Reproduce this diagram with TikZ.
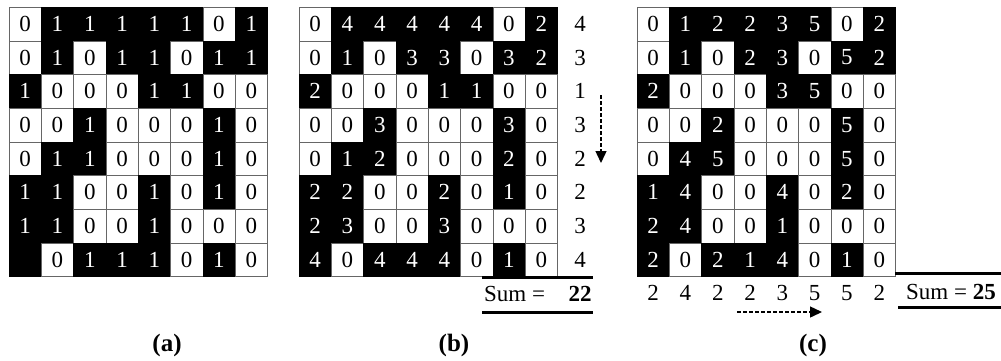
\documentclass[tikz,border=0pt]{standalone}
\usepackage{fontspec}
\setmainfont{Liberation Serif}
\usetikzlibrary{arrows.meta,positioning}
\tikzset{
  cellw/.style={draw=black!60, fill=white, text=black, minimum width=32.3pt, minimum height=33.7pt, inner sep=0pt, font=\fontsize{23}{27}\selectfont},
  cellb/.style={cellw, fill=black, draw=black, text=white},
  num/.style={inner sep=0pt, font=\fontsize{23}{27}\selectfont},
  sumrule/.style={line width=3pt},
  flow/.style={dash pattern=on 4pt off 2pt, line width=1.4pt, -{Triangle[length=12pt,width=11pt]}},
  panel/.style={font=\bfseries\fontsize{25}{30}\selectfont},
}
% #1 name, #2 left edge, #3 rows
\newcommand\celgrid[3]{%
  \foreach \row [count=\i from 0] in {#3}
    \foreach \v/\c [count=\j from 0] in \row
      \node[cell\c] (#1-\i-\j) at ({#2+(\j+0.5)*32.3},{7+(\i+0.5)*33.7}) {\v};
}
\begin{document}
\begin{tikzpicture}[x=1pt, y=-1pt]
\useasboundingbox (0,0) rectangle (1001,360);
% (a) binary image
\celgrid{a}{9}{{0/w,1/b,1/b,1/b,1/b,1/b,0/w,1/b},
  {0/w,1/b,0/w,1/b,1/b,0/w,1/b,1/b},
  {1/b,0/w,0/w,0/w,1/b,1/b,0/w,0/w},
  {0/w,0/w,1/b,0/w,0/w,0/w,1/b,0/w},
  {0/w,1/b,1/b,0/w,0/w,0/w,1/b,0/w},
  {1/b,1/b,0/w,0/w,1/b,0/w,1/b,0/w},
  {1/b,1/b,0/w,0/w,1/b,0/w,0/w,0/w},
  {{}/b,0/w,1/b,1/b,1/b,0/w,1/b,0/w}}
% (b) horizontal run lengths
\celgrid{b}{299}{{0/w,4/b,4/b,4/b,4/b,4/b,0/w,2/b},
  {0/w,1/b,0/w,3/b,3/b,0/w,3/b,2/b},
  {2/b,0/w,0/w,0/w,1/b,1/b,0/w,0/w},
  {0/w,0/w,3/b,0/w,0/w,0/w,3/b,0/w},
  {0/w,1/b,2/b,0/w,0/w,0/w,2/b,0/w},
  {2/b,2/b,0/w,0/w,2/b,0/w,1/b,0/w},
  {2/b,3/b,0/w,0/w,3/b,0/w,0/w,0/w},
  {4/b,0/w,4/b,4/b,4/b,0/w,1/b,0/w}}
\foreach \s [count=\i from 0] in {4,3,1,3,2,2,3,4}
  \node[num] (bs-\i) at (580,{7+(\i+0.5)*33.7}) {\s};
\coordinate (bl1) at (482,277); \coordinate (br1) at (593,277);
\coordinate (bl2) at (482,312); \coordinate (br2) at (593,312);
\draw[sumrule] (bl1) -- (br1);
\draw[sumrule] (bl2) -- (br2);
\node[num, anchor=west] (sumb) at (484,294) {Sum =};
\node[num] (sumbv) at (580,294) {\textbf{22}};
\coordinate (bd1) at (601,95); \coordinate (bd2) at (601,163);
\draw[flow] (bd1) -- (bd2);
% (c) vertical run lengths
\celgrid{c}{637}{{0/w,1/b,2/b,2/b,3/b,5/b,0/w,2/b},
  {0/w,1/b,0/w,2/b,3/b,0/w,5/b,2/b},
  {2/b,0/w,0/w,0/w,3/b,5/b,0/w,0/w},
  {0/w,0/w,2/b,0/w,0/w,0/w,5/b,0/w},
  {0/w,4/b,5/b,0/w,0/w,0/w,5/b,0/w},
  {1/b,4/b,0/w,0/w,4/b,0/w,2/b,0/w},
  {2/b,4/b,0/w,0/w,1/b,0/w,0/w,0/w},
  {2/b,0/w,2/b,1/b,4/b,0/w,1/b,0/w}}
\foreach \s [count=\j from 0] in {2,4,2,2,3,5,5,2}
  \node[num] (cs-\j) at ({637+(\j+0.5)*32.3},293) {\s};
\coordinate (cl1) at (895,273); \coordinate (cr1) at (1001,273);
\coordinate (cl2) at (898,307); \coordinate (cr2) at (1001,307);
\draw[sumrule] (cl1) -- (cr1);
\draw[sumrule] (cl2) -- (cr2);
\node[num] (sumc) at (951,292) {Sum = \textbf{25}};
\coordinate (cd1) at (737,312); \coordinate (cd2) at (822,312);
\draw[flow] (cd1) -- (cd2);
% panel labels
\node[panel] (la) at (167,345) {(a)};
\node[panel] (lb) at (454,345) {(b)};
\node[panel] (lc) at (813,345) {(c)};
\end{tikzpicture}
\end{document}
